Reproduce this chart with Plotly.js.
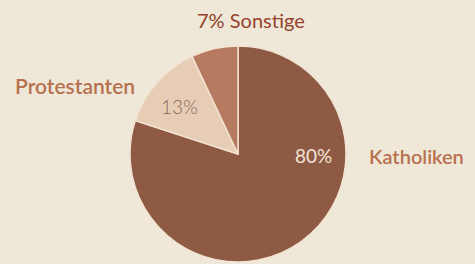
<!DOCTYPE html>
<html><head><meta charset="utf-8">
<script src="https://cdn.plot.ly/plotly-3.0.1.min.js"></script>
<style>html,body{margin:0;padding:0;background:#efe8d8;}#chart{width:475px;height:264px;}</style>
</head><body><div id="chart"></div>
<script>
var labels = ['Katholiken', 'Protestanten', 'Sonstige'];
var values = [80, 13, 7];
var colors = ['#8e5a44', '#e7cdb6', '#b57a5f'];
var insideText = ['80%', '13%', ''];
var outerText = ['Katholiken', 'Protestanten', '7% Sonstige'];

// label placement (pixels) and styles
var insidePos = [[313, 155, '#f3e4d8', 400], [179, 106, '#86695d', 300], [0, 0, '#ffffff', 400]];
var outerPos = [[416, 156, '#b8704f', 20, 600], [75, 86, '#b8704f', 21, 600], [251, 20, '#96412d', 20, 400]];

var trace = {
  type: 'pie',
  labels: labels,
  values: values,
  sort: false,
  direction: 'clockwise',
  rotation: 0,
  marker: {colors: colors, line: {color: '#f2e3d2', width: 1.5}},
  textinfo: 'none',
  hoverinfo: 'none',
  showlegend: false,
  domain: {x: [0.2737, 0.7284], y: [0.0076, 0.8258]}
};

var annotations = [];
outerText.forEach(function (t, i) {
  annotations.push({
    text: t, xref: 'paper', yref: 'paper',
    x: outerPos[i][0] / 475, y: 1 - outerPos[i][1] / 264,
    xanchor: 'center', yanchor: 'middle', showarrow: false,
    font: {family: 'Lato, sans-serif', size: outerPos[i][3], weight: outerPos[i][4], color: outerPos[i][2]}
  });
});
insideText.forEach(function (t, i) {
  if (!t) return;
  annotations.push({
    text: t, xref: 'paper', yref: 'paper',
    x: insidePos[i][0] / 475, y: 1 - insidePos[i][1] / 264,
    xanchor: 'center', yanchor: 'middle', showarrow: false,
    font: {family: 'Lato, sans-serif', size: 19, weight: insidePos[i][3], color: insidePos[i][2]}
  });
});

Plotly.newPlot('chart', [trace], {
  width: 475, height: 264,
  margin: {l: 0, r: 0, t: 0, b: 0},
  paper_bgcolor: '#efe8d8',
  plot_bgcolor: '#efe8d8',
  annotations: annotations
}, {staticPlot: true});
</script></body></html>
